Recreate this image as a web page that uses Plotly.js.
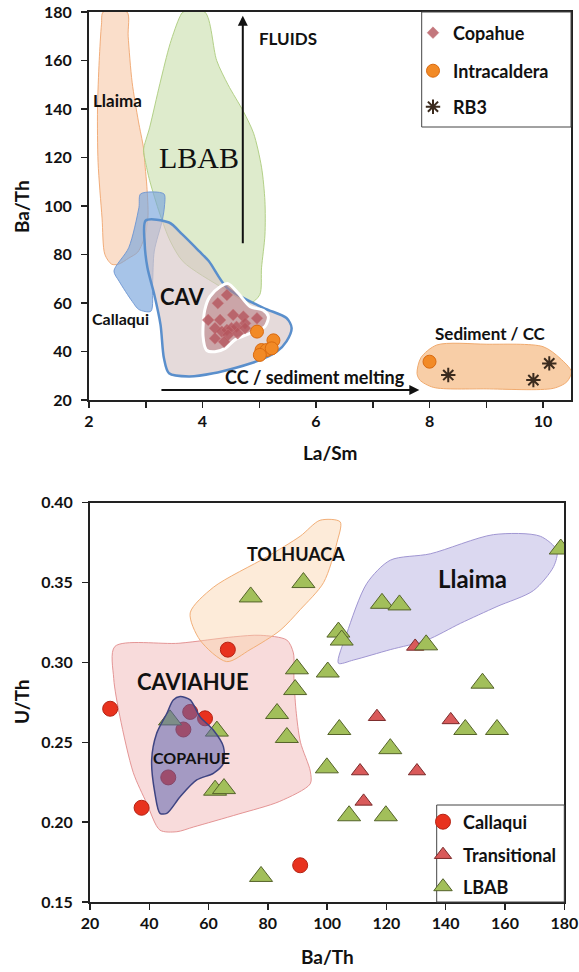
<!DOCTYPE html>
<html><head><meta charset="utf-8">
<script src="https://cdn.plot.ly/plotly-3.0.1.min.js"></script>
<style>html,body{margin:0;padding:0;background:#fff}#chart{width:579px;height:972px}</style>
</head><body><div id="chart"></div>
<script>
// ---------- TOP PANEL: La/Sm vs Ba/Th ----------
const llaimaTopLaSm = [2.25,2.67,2.69,2.76,2.87,2.96,2.99,3.02,3.04,2.99,2.86,2.70,2.52,2.40,2.28,2.23,2.16,2.15,2.18,2.22,2.25];
const llaimaTopBaTh = [180,180,170,151,135,124,116,108,96,88,81,78.5,76,76,80,95,118,140,160,175,180];

const lbabTopLaSm = [3.66,4.04,4.25,4.45,4.72,4.90,5.04,5.10,5.10,5.04,5.01,4.84,4.37,3.66,3.43,3.25,3.07,2.99,2.96,3.07,3.25,3.43,3.60,3.66];
const lbabTopBaTh = [180,180,160,150,139,130,116,102,88,74.5,63.5,60,66,77,85.6,96.6,110.4,118.7,123,132.5,150.5,167,178,180];

const callaquiTopLaSm = [2.91,3.32,3.33,3.29,3.15,3.12,3.09,2.88,2.76,2.53,2.44,2.70,2.88,2.91];
const callaquiTopBaTh = [105,105,100,94,81.4,67.7,56.6,57.3,60.7,69,73.2,82.8,99.4,105];

const cavTopLaSm = [3.00,3.41,3.64,3.94,4.11,4.43,5.07,5.48,5.57,5.48,5.31,4.95,4.19,3.76,3.41,3.32,3.26,3.15,3.03,2.98,3.00];
const cavTopBaTh = [94,93.2,88.4,81.4,77.3,66.3,58,53.8,49.7,44.2,40,35.9,31,29.7,31,37.3,51.1,63.5,74.5,85,94];

const copahueTopLaSm = [4.45,4.63,4.84,5.07,5.16,5.10,4.84,4.57,4.40,4.22,4.07,4.01,4.04,4.13,4.31,4.45];
const copahueTopBaTh = [68,64,58.5,57,54.4,50.3,47.5,44.8,41.3,39.9,40.6,46.1,57.1,62.6,66.7,68];

const sedimentTopLaSm = [7.78,7.85,8.13,9.0,10.0,10.3,10.5,10.42,10.18,9.0,8.07,7.83,7.78];
const sedimentTopBaTh = [31,37.5,42.7,43,42,37.2,31.7,27.5,24.8,24.6,25.2,28.2,31];

const copahueLaSm = [4.43,4.27,4.10,4.31,4.54,4.72,4.96,4.22,4.34,4.43,4.51,4.60,4.75,4.22,4.45,4.75,4.62,4.38];
const copahueBaTh = [63.3,59.9,53.0,53.0,55.1,54.4,53.7,49.6,48.2,48.9,49.6,50.2,51.6,45.4,46.8,49.6,47.5,44.0];

const intraLaSm = [4.96,5.25,5.04,5.13,5.22,5.01,8.0];
const intraBaTh = [48.2,44.6,40.6,40.6,41.3,38.6,35.8];

const rb3LaSm = [8.33,9.83,10.11];
const rb3BaTh = [30.3,28.2,35.1];

const topXTicks = [2,3,4,5,6,7,8,9,10];
const topXTickText = ['2','','4','','6','','8','','10'];
const topYTicks = [20,40,60,80,100,120,140,160,180];

// ---------- BOTTOM PANEL: Ba/Th vs U/Th ----------
const caviahueBotBaTh = [28.4,50,68.4,77.4,86.4,88.6,88.8,89.5,91,94.3,94.3,84,70,55,49.3,43.6,39.1,34.6,30.1,28,28.4];
const caviahueBotUTh = [0.310,0.312,0.316,0.317,0.314,0.306,0.29,0.27,0.25,0.232,0.224,0.213,0.205,0.197,0.194,0.195,0.212,0.231,0.266,0.29,0.310];

const tolhuacaBotBaTh = [53.8,61.6,79.6,90.9,97.6,104.4,103.3,98.8,90.9,84.1,74,66.1,57.1,53.8];
const tolhuacaBotUTh = [0.331,0.347,0.366,0.379,0.389,0.388,0.375,0.350,0.333,0.320,0.308,0.3005,0.314,0.331];

const llaimaBotBaTh = [103.8,106.6,113.4,121.3,134.8,156.1,171.9,177.5,176.4,169.6,157.3,145.0,133.6,121.3,108.9,103.8];
const llaimaBotUTh = [0.2995,0.318,0.3495,0.364,0.368,0.380,0.379,0.370,0.360,0.345,0.335,0.3245,0.314,0.308,0.3015,0.2995];

const copahueBotBaTh = [48.1,50.4,53.8,57.1,61.6,65,65,61.6,56,50.4,45.9,43.6,41.9,40.8,42.5,45.9,48.1];
const copahueBotUTh = [0.2765,0.2786,0.2765,0.266,0.2577,0.2473,0.2368,0.2306,0.2264,0.2159,0.2055,0.2055,0.218,0.2389,0.2556,0.268,0.2765];

const callaquiBaTh = [26.8,37.4,66.5,58.8,90.9,53.8,51.5,46.4];
const callaquiUTh = [0.271,0.209,0.308,0.265,0.173,0.269,0.258,0.228];

const transBaTh = [129.7,116.8,141.7,111.1,130.3,112.3];
const transUTh = [0.310,0.266,0.264,0.232,0.232,0.213];

const lbabBaTh = [178.8,74.2,92.0,118.5,124.4,103.8,104.9,133.4,89.8,89.2,100.2,152.4,83.1,86.4,104.1,146.6,157.3,121.3,99.9,107.4,119.8,77.7,62.8,47.0,62.2,65.2];
const lbabUTh = [0.371,0.341,0.350,0.337,0.336,0.319,0.314,0.311,0.296,0.283,0.294,0.287,0.268,0.253,0.258,0.258,0.258,0.246,0.234,0.204,0.204,0.166,0.257,0.264,0.220,0.221];

const botXTicks = [20,40,60,80,100,120,140,160,180];
const botYTicks = [0.15,0.20,0.25,0.30,0.35,0.40];

// ---------- build ----------
const FONT = 'Lato, "Open Sans", sans-serif';
function region(x, y, xa, ya, fill, line, lw) {
  return {x: x, y: y, xaxis: xa, yaxis: ya, type: 'scatter', mode: 'lines', fill: 'toself',
    fillcolor: fill, line: {color: line, width: lw, shape: 'spline', smoothing: 0.8},
    showlegend: false, hoverinfo: 'skip'};
}

const traces = [
  region(llaimaTopLaSm, llaimaTopBaTh, 'x', 'y', 'rgba(245,190,150,0.5)', 'rgba(240,165,110,0.9)', 1),
  region(lbabTopLaSm, lbabTopBaTh, 'x', 'y', 'rgba(200,222,170,0.6)', 'rgba(175,205,130,0.95)', 1),
  region(callaquiTopLaSm, callaquiTopBaTh, 'x', 'y', 'rgba(120,165,220,0.65)', 'rgba(110,150,210,0.9)', 1),
  region(cavTopLaSm, cavTopBaTh, 'x', 'y', 'rgba(215,198,198,0.65)', '#5a8fcc', 2.5),
  region(copahueTopLaSm, copahueTopBaTh, 'x', 'y', 'rgba(185,130,135,0.6)', '#ffffff', 3),
  region(sedimentTopLaSm, sedimentTopBaTh, 'x', 'y', 'rgba(245,185,130,0.7)', 'rgba(240,170,110,1)', 1),
  {x: copahueLaSm, y: copahueBaTh, xaxis: 'x', yaxis: 'y', type: 'scatter', mode: 'markers', name: 'Copahue',
    legend: 'legend',
    marker: {symbol: 'diamond', size: 9, color: 'rgba(180,85,92,0.8)', line: {color: 'rgba(200,120,125,0.9)', width: 0.5}}},
  {x: intraLaSm, y: intraBaTh, xaxis: 'x', yaxis: 'y', type: 'scatter', mode: 'markers', name: 'Intracaldera',
    legend: 'legend2',
    marker: {symbol: 'circle', size: 13, color: '#f28a26', line: {color: '#d96a10', width: 1}}},
  {x: rb3LaSm, y: rb3BaTh, xaxis: 'x', yaxis: 'y', type: 'scatter', mode: 'markers', name: 'RB3',
    legend: 'legend3',
    marker: {symbol: 'asterisk-open', size: 12, color: '#3b2b1e', line: {color: '#3b2b1e', width: 2}}},

  region(caviahueBotBaTh, caviahueBotUTh, 'x2', 'y2', 'rgba(240,175,175,0.45)', 'rgba(225,140,140,0.9)', 1),
  region(tolhuacaBotBaTh, tolhuacaBotUTh, 'x2', 'y2', 'rgba(250,210,170,0.45)', 'rgba(242,175,120,1)', 1),
  region(llaimaBotBaTh, llaimaBotUTh, 'x2', 'y2', 'rgba(200,195,232,0.65)', 'rgba(160,150,210,1)', 1),
  {x: callaquiBaTh, y: callaquiUTh, xaxis: 'x2', yaxis: 'y2', type: 'scatter', mode: 'markers', name: 'Callaqui',
    legend: 'legend4',
    marker: {symbol: 'circle', size: 15, color: '#e8321e', line: {color: '#b52314', width: 1}}},
  {x: transBaTh, y: transUTh, xaxis: 'x2', yaxis: 'y2', type: 'scatter', mode: 'markers', name: 'Transitional',
    legend: 'legend5',
    marker: {symbol: 'triangle-up', size: 15, color: '#d95a5a', line: {color: '#7a2a2a', width: 1}}},
  {x: lbabBaTh, y: lbabUTh, xaxis: 'x2', yaxis: 'y2', type: 'scatter', mode: 'markers', name: 'LBAB',
    legend: 'legend6',
    marker: {symbol: 'triangle-up', size: 20, color: '#a2bf5a', line: {color: '#55632a', width: 1}}},
  region(copahueBotBaTh, copahueBotUTh, 'x2', 'y2', 'rgba(95,100,175,0.55)', '#3e4482', 1.5)
];

const tickFont = {family: FONT, size: 16, color: '#111', weight: 'bold'};
function axis(extra) {
  return Object.assign({showgrid: false, zeroline: false, showline: true, mirror: true,
    linecolor: '#222', linewidth: 2, ticks: 'outside', ticklen: 6, tickwidth: 1.5, tickcolor: '#222',
    tickfont: tickFont, fixedrange: true}, extra);
}
function leg(x, y, size) {
  return {x: x, y: y, xanchor: 'left', yanchor: 'middle', bgcolor: 'rgba(0,0,0,0)', borderwidth: 0,
    font: {family: FONT, size: size, color: '#111', weight: 'bold'}, itemsizing: 'trace'};
}
function lab(text, x, y, xr, yr, size, fam) {
  return {text: text, x: x, y: y, xref: xr, yref: yr, showarrow: false, xanchor: 'center', yanchor: 'middle',
    font: {family: fam || FONT, size: size, color: '#111', weight: fam ? 'normal' : 'bold'}};
}

const layout = {
  width: 579, height: 972, margin: {l: 0, r: 0, t: 0, b: 0},
  paper_bgcolor: '#fff', plot_bgcolor: 'rgba(0,0,0,0)', showlegend: true,
  font: {family: FONT, color: '#111'},
  xaxis: axis({domain: [89/579, 571.4/579], range: [2, 10.5], tickmode: 'array', tickvals: topXTicks, ticktext: topXTickText, anchor: 'y'}),
  yaxis: axis({domain: [572/972, 960/972], range: [20, 180], tickmode: 'array', tickvals: topYTicks, ticklabelstandoff: 6, anchor: 'x'}),
  xaxis2: axis({domain: [90/579, 564.3/579], range: [20, 180], tickmode: 'array', tickvals: botXTicks, anchor: 'y2'}),
  yaxis2: axis({domain: [70/972, 469.3/972], range: [0.15, 0.40], tickmode: 'array', tickvals: botYTicks, tickformat: '.2f', ticklabelstandoff: 6, anchor: 'x2'}),
  legend: leg(413/579, 1 - 33/972, 18),
  legend2: leg(413/579, 1 - 71/972, 18),
  legend3: leg(413/579, 1 - 107/972, 18),
  legend4: leg(423/579, 1 - 822/972, 18),
  legend5: leg(423/579, 1 - 855/972, 18),
  legend6: leg(423/579, 1 - 887/972, 18),
  shapes: [
    {type: 'rect', xref: 'paper', yref: 'paper', x0: 421.7/579, x1: 571/579, y0: 1 - 127/972, y1: 1 - 12/972,
      line: {color: '#444', width: 1}, layer: 'above'},
    {type: 'rect', xref: 'paper', yref: 'paper', x0: 436.7/579, x1: 564.3/579, y0: 70/972, y1: 1 - 805/972,
      line: {color: '#444', width: 1}, layer: 'above'}
  ],
  annotations: [
    lab('La/Sm', 330/579, 1 - 452/972, 'paper', 'paper', 19),
    Object.assign(lab('Ba/Th', 21/579, 1 - 207/972, 'paper', 'paper', 19), {textangle: -90}),
    lab('Ba/Th', 327/579, 1 - 956/972, 'paper', 'paper', 19),
    Object.assign(lab('U/Th', 21/579, 1 - 702/972, 'paper', 'paper', 19), {textangle: -90}),
    lab('FLUIDS', 5.5, 169, 'x', 'y', 17),
    lab('Llaima', 2.51, 143.7, 'x', 'y', 17),
    lab('LBAB', 3.94, 119.8, 'x', 'y', 30, '"Liberation Serif", "DejaVu Serif", serif'),
    lab('CAV', 3.64, 62.6, 'x', 'y', 22),
    lab('Callaqui', 2.55, 53.8, 'x', 'y', 16),
    lab('Sediment / CC', 9.08, 47.5, 'x', 'y', 17),
    lab('CC / sediment melting', 5.98, 29.3, 'x', 'y', 18),
    {x: 4.71, y: 178.5, ax: 4.71, ay: 84, xref: 'x', yref: 'y', axref: 'x', ayref: 'y', text: '',
      showarrow: true, arrowhead: 2, arrowsize: 1, arrowwidth: 2, arrowcolor: '#111'},
    {x: 7.82, y: 24.1, ax: 3.25, ay: 24.1, xref: 'x', yref: 'y', axref: 'x', ayref: 'y', text: '',
      showarrow: true, arrowhead: 2, arrowsize: 1, arrowwidth: 2, arrowcolor: '#111'},
    lab('TOLHUACA', 89.5, 0.368, 'x2', 'y2', 18),
    lab('Llaima', 149.1, 0.3527, 'x2', 'y2', 24),
    lab('CAVIAHUE', 54.9, 0.288, 'x2', 'y2', 22),
    lab('COPAHUE', 54.3, 0.2406, 'x2', 'y2', 16)
  ]
};

Plotly.newPlot('chart', traces, layout, {displayModeBar: false, staticPlot: true});
</script></body></html>
